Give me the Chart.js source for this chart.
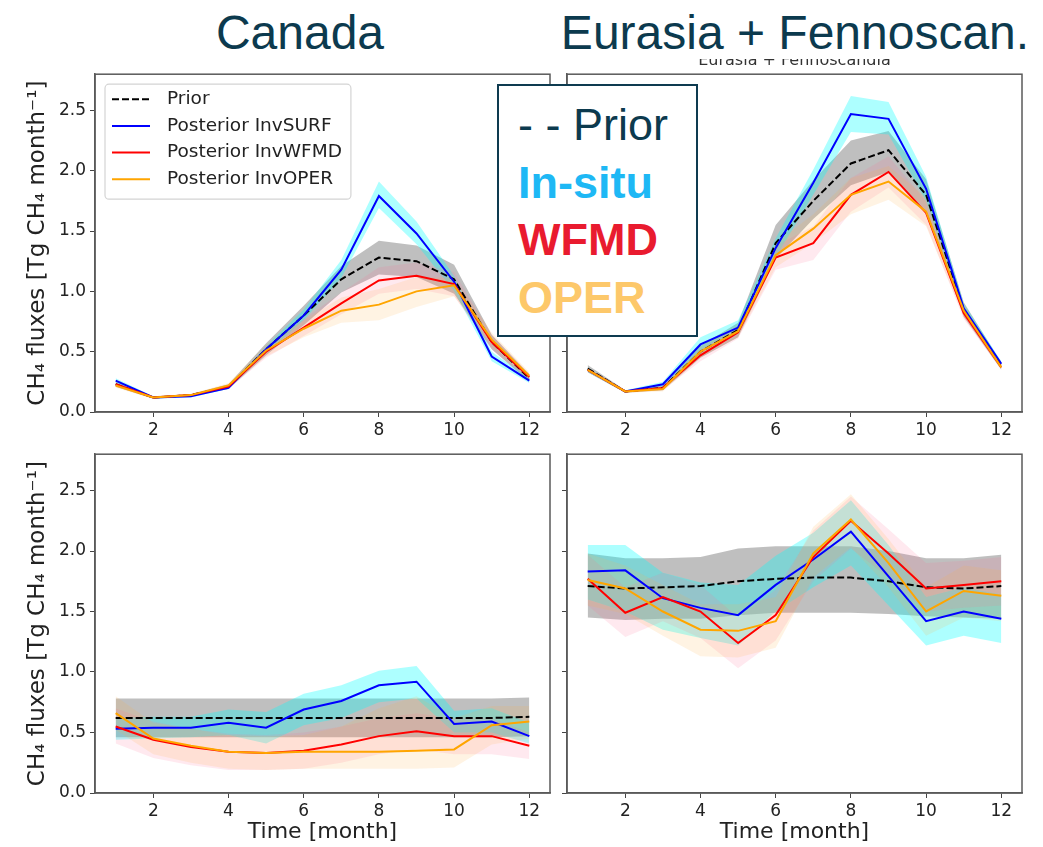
<!DOCTYPE html>
<html>
<head>
<meta charset="utf-8">
<script src="https://cdn.jsdelivr.net/npm/chart.js@4.4.0/dist/chart.umd.min.js"></script>
<style>
  body { margin: 0; background: #fff; width: 1043px; height: 847px; position: relative; overflow: hidden; }
  canvas { position: absolute; }
  .title { position: absolute; font-family: "Liberation Sans", Arial, sans-serif; font-size: 48px; line-height: 48px; color: #0c3a4e; text-align: center; white-space: nowrap; }
  .cover { position: absolute; left: 0; top: 0; width: 1043px; height: 59px; background: #fff; z-index: 2; }
  .sub { position: absolute; left: 567px; width: 455px; top: 52px; text-align: center; font-family: "DejaVu Sans", sans-serif; font-size: 16px; line-height: 16px; color: #333; z-index: 1; }
  .keybox { position: absolute; left: 497px; top: 84px; width: 201px; height: 253px; box-sizing: border-box; border: 2px solid #0e3b50; background: #fff; z-index: 3; }
  .key { position: absolute; left: 19px; font-family: "Liberation Sans", Arial, sans-serif; font-size: 45px; line-height: 45px; white-space: nowrap; }
</style>
</head>
<body>
<div class="cover">
  <div class="title" style="left:150px;width:300px;top:9px">Canada</div>
  <div class="title" style="left:545px;width:500px;top:9px">Eurasia + Fennoscan.</div>
</div>
<div class="sub">Eurasia + Fennoscandia</div>

<canvas id="c1" width="560" height="390" style="left:0;top:60px"></canvas>
<canvas id="c2" width="487" height="390" style="left:556px;top:60px"></canvas>
<canvas id="c3" width="560" height="407" style="left:0;top:440px"></canvas>
<canvas id="c4" width="487" height="407" style="left:556px;top:440px"></canvas>

<div class="keybox">
  <div class="key" style="top:16px;color:#0c3a4e">- - Prior</div>
  <div class="key" style="top:74px;color:#1eb8f5;font-weight:bold">In-situ</div>
  <div class="key" style="top:131px;color:#e91b2f;font-weight:bold">WFMD</div>
  <div class="key" style="top:189px;color:#fdc86a;font-weight:bold">OPER</div>
</div>

<script>
const months = [1, 2, 3, 4, 5, 6, 7, 8, 9, 10, 11, 12];
const xTicks = [2, 4, 6, 8, 10, 12];
const yTicks = [0, 0.5, 1.0, 1.5, 2.0, 2.5];
const legendLabels = ["Prior", "Posterior InvSURF", "Posterior InvWFMD", "Posterior InvOPER"];
const yTitle = "CH\u2084 fluxes [Tg CH\u2084 month\u207B\u00B9]";
const xTitle = "Time [month]";

// Canada, top row
const caTopPrior   = [0.23, 0.12, 0.14, 0.21, 0.52, 0.80, 1.10, 1.28, 1.25, 1.10, 0.58, 0.28];
const caTopPriorLo = [0.21, 0.11, 0.13, 0.19, 0.47, 0.72, 0.99, 1.14, 1.12, 0.98, 0.52, 0.25];
const caTopPriorHi = [0.25, 0.13, 0.15, 0.23, 0.57, 0.88, 1.21, 1.42, 1.38, 1.22, 0.64, 0.31];
const caTopSurf    = [0.26, 0.12, 0.13, 0.20, 0.52, 0.80, 1.18, 1.79, 1.48, 1.08, 0.46, 0.26];
const caTopSurfLo  = [0.24, 0.11, 0.12, 0.19, 0.49, 0.76, 1.11, 1.69, 1.39, 1.00, 0.42, 0.24];
const caTopSurfHi  = [0.28, 0.13, 0.14, 0.22, 0.55, 0.85, 1.26, 1.91, 1.58, 1.13, 0.50, 0.28];
const caTopWfmd    = [0.23, 0.12, 0.14, 0.21, 0.50, 0.70, 0.90, 1.09, 1.13, 1.06, 0.58, 0.29];
const caTopWfmdLo  = [0.21, 0.11, 0.13, 0.19, 0.45, 0.63, 0.81, 0.98, 1.02, 0.96, 0.52, 0.26];
const caTopWfmdHi  = [0.25, 0.13, 0.15, 0.23, 0.55, 0.77, 0.99, 1.20, 1.24, 1.16, 0.64, 0.32];
const caTopOper    = [0.22, 0.12, 0.14, 0.22, 0.51, 0.69, 0.84, 0.89, 1.00, 1.05, 0.60, 0.30];
const caTopOperLo  = [0.20, 0.11, 0.13, 0.20, 0.46, 0.62, 0.74, 0.76, 0.87, 0.96, 0.54, 0.27];
const caTopOperHi  = [0.24, 0.13, 0.15, 0.24, 0.56, 0.76, 0.95, 1.02, 1.12, 1.11, 0.66, 0.33];

// Eurasia + Fennoscandia, top row
const euTopPrior   = [0.36, 0.17, 0.20, 0.50, 0.68, 1.40, 1.75, 2.06, 2.17, 1.80, 0.85, 0.38];
const euTopPriorLo = [0.33, 0.16, 0.18, 0.45, 0.62, 1.27, 1.60, 1.88, 1.99, 1.66, 0.79, 0.35];
const euTopPriorHi = [0.39, 0.18, 0.22, 0.55, 0.74, 1.55, 1.92, 2.25, 2.33, 1.93, 0.91, 0.41];
const euTopSurf    = [0.35, 0.17, 0.23, 0.56, 0.70, 1.36, 1.90, 2.47, 2.43, 1.85, 0.86, 0.40];
const euTopSurfLo  = [0.33, 0.16, 0.21, 0.51, 0.66, 1.28, 1.80, 2.32, 2.30, 1.75, 0.82, 0.38];
const euTopSurfHi  = [0.37, 0.18, 0.25, 0.62, 0.76, 1.44, 2.01, 2.62, 2.57, 1.95, 0.90, 0.42];
const euTopWfmd    = [0.35, 0.17, 0.20, 0.47, 0.66, 1.28, 1.40, 1.80, 1.99, 1.65, 0.82, 0.37];
const euTopWfmdLo  = [0.33, 0.16, 0.18, 0.42, 0.61, 1.18, 1.26, 1.66, 1.86, 1.55, 0.77, 0.35];
const euTopWfmdHi  = [0.37, 0.18, 0.22, 0.52, 0.71, 1.38, 1.54, 1.94, 2.12, 1.75, 0.87, 0.39];
const euTopOper    = [0.35, 0.17, 0.19, 0.50, 0.67, 1.30, 1.52, 1.80, 1.91, 1.66, 0.84, 0.37];
const euTopOperLo  = [0.33, 0.16, 0.17, 0.45, 0.62, 1.20, 1.40, 1.64, 1.76, 1.54, 0.79, 0.35];
const euTopOperHi  = [0.37, 0.18, 0.21, 0.55, 0.72, 1.40, 1.64, 1.94, 2.04, 1.78, 0.89, 0.39];

// Canada, bottom row
const caBotPrior   = [0.62, 0.62, 0.62, 0.62, 0.62, 0.62, 0.62, 0.62, 0.62, 0.62, 0.62, 0.63];
const caBotPriorLo = [0.46, 0.46, 0.46, 0.46, 0.46, 0.46, 0.46, 0.46, 0.46, 0.46, 0.46, 0.47];
const caBotPriorHi = [0.78, 0.78, 0.78, 0.78, 0.78, 0.78, 0.78, 0.78, 0.78, 0.78, 0.78, 0.79];
const caBotSurf    = [0.53, 0.54, 0.54, 0.58, 0.54, 0.69, 0.76, 0.89, 0.92, 0.57, 0.59, 0.47];
const caBotSurfLo  = [0.44, 0.45, 0.46, 0.48, 0.41, 0.56, 0.62, 0.75, 0.78, 0.50, 0.50, 0.41];
const caBotSurfHi  = [0.62, 0.63, 0.63, 0.69, 0.67, 0.82, 0.89, 1.01, 1.05, 0.68, 0.70, 0.58];
const caBotWfmd    = [0.55, 0.44, 0.38, 0.34, 0.33, 0.35, 0.40, 0.47, 0.51, 0.47, 0.47, 0.39];
const caBotWfmdLo  = [0.41, 0.29, 0.23, 0.19, 0.19, 0.20, 0.25, 0.32, 0.36, 0.32, 0.32, 0.28];
const caBotWfmdHi  = [0.70, 0.59, 0.53, 0.49, 0.48, 0.50, 0.55, 0.62, 0.66, 0.62, 0.62, 0.50];
const caBotOper    = [0.66, 0.45, 0.39, 0.34, 0.33, 0.34, 0.34, 0.34, 0.35, 0.36, 0.56, 0.59];
const caBotOperLo  = [0.52, 0.32, 0.25, 0.20, 0.19, 0.20, 0.20, 0.20, 0.20, 0.21, 0.40, 0.45];
const caBotOperHi  = [0.80, 0.58, 0.53, 0.48, 0.47, 0.48, 0.55, 0.70, 0.80, 0.62, 0.72, 0.72];

// Eurasia + Fennoscandia, bottom row
const euBotPrior   = [1.71, 1.69, 1.70, 1.71, 1.75, 1.77, 1.78, 1.78, 1.75, 1.70, 1.69, 1.71];
const euBotPriorLo = [1.45, 1.43, 1.44, 1.44, 1.47, 1.49, 1.49, 1.49, 1.48, 1.46, 1.45, 1.44];
const euBotPriorHi = [1.98, 1.94, 1.94, 1.95, 2.02, 2.04, 2.04, 2.04, 2.00, 1.94, 1.94, 1.97];
const euBotSurf    = [1.83, 1.84, 1.61, 1.53, 1.47, 1.72, 1.93, 2.16, 1.79, 1.42, 1.50, 1.44];
const euBotSurfLo  = [1.60, 1.50, 1.35, 1.28, 1.22, 1.50, 1.70, 1.88, 1.55, 1.22, 1.30, 1.24];
const euBotSurfHi  = [2.05, 2.05, 1.82, 1.74, 1.72, 1.96, 2.15, 2.42, 2.05, 1.62, 1.70, 1.64];
const euBotWfmd    = [1.77, 1.49, 1.62, 1.50, 1.24, 1.47, 1.95, 2.25, 1.98, 1.69, 1.72, 1.75];
const euBotWfmdLo  = [1.55, 1.29, 1.42, 1.28, 1.03, 1.26, 1.75, 2.02, 1.78, 1.50, 1.53, 1.55];
const euBotWfmdHi  = [1.97, 1.70, 1.82, 1.72, 1.45, 1.68, 2.17, 2.45, 2.18, 1.90, 1.92, 1.95];
const euBotOper    = [1.76, 1.69, 1.50, 1.35, 1.34, 1.42, 1.98, 2.26, 1.90, 1.50, 1.67, 1.63];
const euBotOperLo  = [1.55, 1.48, 1.30, 1.13, 1.12, 1.20, 1.78, 2.03, 1.70, 1.30, 1.45, 1.42];
const euBotOperHi  = [1.98, 1.88, 1.72, 1.56, 1.56, 1.62, 2.20, 2.47, 2.10, 1.70, 1.88, 1.84];

const colPrior = "#000000";
const colSurf = "#0000ff";
const colWfmd = "#ff0000";
const colOper = "#ffa500";
const bandPrior = "rgba(128,128,128,0.5)";
const bandSurf = "rgba(0,255,255,0.32)";
const bandWfmd = "rgba(255,110,150,0.15)";
const bandOper = "rgba(255,175,70,0.15)";

const tickFont = { family: "DejaVu Sans", size: 17 };
const yTitleFont = { family: "DejaVu Sans", size: 23 };
const xTitleFont = { family: "DejaVu Sans", size: 22 };

function pts(values) {
    return months.map((m, i) => ({ x: m, y: values[i] }));
}

function band(lo, hi, color) {
    return [
        { data: pts(lo), borderColor: "rgba(0,0,0,0)", borderWidth: 0, pointRadius: 0, fill: false },
        { data: pts(hi), borderColor: "rgba(0,0,0,0)", borderWidth: 0, pointRadius: 0, fill: "-1", backgroundColor: color }
    ];
}

function line(values, color, dash) {
    return {
        data: pts(values),
        borderColor: color,
        borderWidth: 2,
        borderDash: dash || [],
        pointRadius: 0,
        fill: false
    };
}

// matplotlib-like frame around the plotting area
const framePlugin = {
    id: "frame",
    afterDatasetsDraw(chart) {
        const a = chart.chartArea;
        const ctx = chart.ctx;
        ctx.save();
        ctx.strokeStyle = "#5a5a5a";
        ctx.lineWidth = 1.5;
        ctx.strokeRect(a.left, a.top, a.right - a.left, a.bottom - a.top);
        ctx.restore();
    }
};

// legend box drawn inside the axes, top left
const legendPlugin = {
    id: "mplLegend",
    afterDraw(chart) {
        const ctx = chart.ctx;
        const a = chart.chartArea;
        const x0 = a.left + 10;
        const y0 = a.top + 10;
        const styles = [
            { color: colPrior, dash: [7, 3] },
            { color: colSurf, dash: [] },
            { color: colWfmd, dash: [] },
            { color: colOper, dash: [] }
        ];
        ctx.save();
        ctx.font = "18.5px 'DejaVu Sans'";
        let maxW = 0;
        legendLabels.forEach(t => { maxW = Math.max(maxW, ctx.measureText(t).width); });
        const w = 62 + maxW + 9;
        const h = 115;
        ctx.fillStyle = "rgba(255,255,255,0.85)";
        ctx.strokeStyle = "#d4d4d4";
        ctx.lineWidth = 1.2;
        ctx.beginPath();
        ctx.roundRect(x0, y0, w, h, 4);
        ctx.fill();
        ctx.stroke();
        legendLabels.forEach((t, i) => {
            const y = y0 + 15 + i * 26.7;
            ctx.strokeStyle = styles[i].color;
            ctx.lineWidth = 2;
            ctx.setLineDash(styles[i].dash);
            ctx.beginPath();
            ctx.moveTo(x0 + 7, y);
            ctx.lineTo(x0 + 45, y);
            ctx.stroke();
            ctx.setLineDash([]);
            ctx.fillStyle = "#222";
            ctx.textBaseline = "middle";
            ctx.fillText(t, x0 + 62, y);
        });
        ctx.restore();
    }
};

function makeChart(id, set, opt) {
    const datasets = [
        ...band(set.priorLo, set.priorHi, bandPrior),
        ...band(set.surfLo, set.surfHi, bandSurf),
        ...band(set.wfmdLo, set.wfmdHi, bandWfmd),
        ...band(set.operLo, set.operHi, bandOper),
        line(set.prior, colPrior, [7, 3]),
        line(set.surf, colSurf),
        line(set.wfmd, colWfmd),
        line(set.oper, colOper)
    ];
    // later in the list = drawn on top
    datasets.forEach((d, i) => { d.order = datasets.length - i; });

    const plugins = [framePlugin];
    if (opt.legend) plugins.push(legendPlugin);

    return new Chart(document.getElementById(id).getContext("2d"), {
        type: "line",
        data: { datasets: datasets },
        plugins: plugins,
        options: {
            responsive: false,
            animation: false,
            events: [],
            layout: { padding: { top: opt.padTop, right: opt.padRight, left: 0, bottom: 0 } },
            plugins: {
                legend: { display: false },
                tooltip: { enabled: false }
            },
            scales: {
                x: {
                    type: "linear",
                    min: 0.45,
                    max: 12.55,
                    afterBuildTicks: s => { s.ticks = xTicks.map(v => ({ value: v })); },
                    afterFit: s => { s.height = opt.xHeight; },
                    ticks: {
                        font: tickFont,
                        color: "#222",
                        padding: 3,
                        autoSkip: false,
                        maxRotation: 0,
                        callback: v => String(v)
                    },
                    grid: { drawOnChartArea: false, drawTicks: true, tickLength: 5, tickColor: "#444" },
                    border: { display: true, color: "#5a5a5a", width: 1.5 },
                    title: {
                        display: !!opt.xTitle,
                        text: xTitle,
                        font: xTitleFont,
                        color: "#222",
                        padding: { top: 0, bottom: 2 }
                    }
                },
                y: {
                    min: 0,
                    max: 2.8,
                    afterBuildTicks: s => { s.ticks = yTicks.map(v => ({ value: v })); },
                    afterFit: s => { s.width = opt.yWidth; },
                    ticks: {
                        font: tickFont,
                        color: "#222",
                        padding: 4,
                        callback: v => opt.yLabels ? v.toFixed(1) : ""
                    },
                    grid: { drawOnChartArea: false, drawTicks: true, tickLength: 5, tickColor: "#444" },
                    border: { display: true, color: "#5a5a5a", width: 1.5 },
                    title: {
                        display: !!opt.yLabels,
                        text: yTitle,
                        font: yTitleFont,
                        color: "#222",
                        padding: { top: 24, bottom: 0 }
                    }
                }
            }
        }
    });
}

makeChart("c1", {
    prior: caTopPrior, priorLo: caTopPriorLo, priorHi: caTopPriorHi,
    surf: caTopSurf, surfLo: caTopSurfLo, surfHi: caTopSurfHi,
    wfmd: caTopWfmd, wfmdLo: caTopWfmdLo, wfmdHi: caTopWfmdHi,
    oper: caTopOper, operLo: caTopOperLo, operHi: caTopOperHi
}, { padTop: 13, padRight: 10, xHeight: 38, yWidth: 95, yLabels: true, legend: true });

makeChart("c2", {
    prior: euTopPrior, priorLo: euTopPriorLo, priorHi: euTopPriorHi,
    surf: euTopSurf, surfLo: euTopSurfLo, surfHi: euTopSurfHi,
    wfmd: euTopWfmd, wfmdLo: euTopWfmdLo, wfmdHi: euTopWfmdHi,
    oper: euTopOper, operLo: euTopOperLo, operHi: euTopOperHi
}, { padTop: 13, padRight: 21, xHeight: 38, yWidth: 11, yLabels: false });

makeChart("c3", {
    prior: caBotPrior, priorLo: caBotPriorLo, priorHi: caBotPriorHi,
    surf: caBotSurf, surfLo: caBotSurfLo, surfHi: caBotSurfHi,
    wfmd: caBotWfmd, wfmdLo: caBotWfmdLo, wfmdHi: caBotWfmdHi,
    oper: caBotOper, operLo: caBotOperLo, operHi: caBotOperHi
}, { padTop: 14, padRight: 10, xHeight: 54, yWidth: 95, yLabels: true, xTitle: true });

makeChart("c4", {
    prior: euBotPrior, priorLo: euBotPriorLo, priorHi: euBotPriorHi,
    surf: euBotSurf, surfLo: euBotSurfLo, surfHi: euBotSurfHi,
    wfmd: euBotWfmd, wfmdLo: euBotWfmdLo, wfmdHi: euBotWfmdHi,
    oper: euBotOper, operLo: euBotOperLo, operHi: euBotOperHi
}, { padTop: 14, padRight: 21, xHeight: 54, yWidth: 11, yLabels: false, xTitle: true });
</script>
</body>
</html>
